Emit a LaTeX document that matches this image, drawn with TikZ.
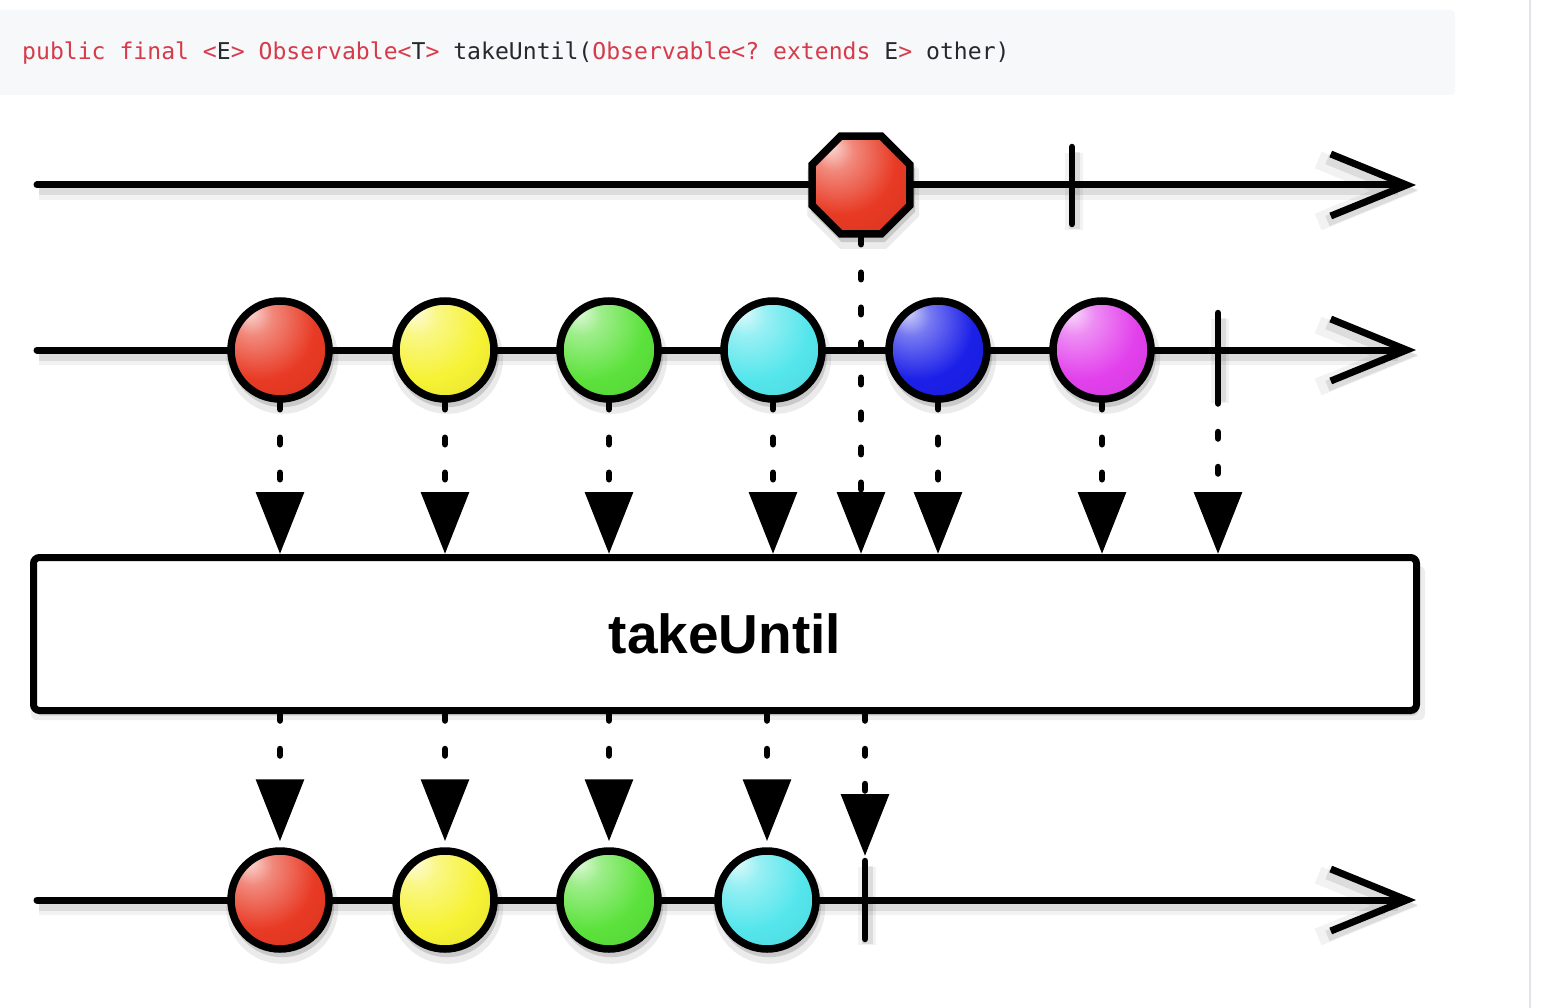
\documentclass[tikz,border=0pt]{standalone}
\usepackage{fontspec}
\newfontfamily\codefont{DejaVu Sans Mono}
\newfontfamily\labfont{Liberation Sans}
\usetikzlibrary{arrows.meta,shapes.geometric,shadows}
\definecolor{cred}{HTML}{D73A49}
\definecolor{cblk}{HTML}{24292E}
\definecolor{codebg}{HTML}{F6F8FA}
\definecolor{sepline}{HTML}{E1E4E8}
\definecolor{mred}{RGB}{232,58,36}
\definecolor{myel}{RGB}{246,242,52}
\definecolor{mgrn}{RGB}{92,226,60}
\definecolor{mcya}{RGB}{84,230,236}
\definecolor{mblu}{RGB}{28,32,232}
\definecolor{mmag}{RGB}{226,64,236}
\newcommand\mkmarble[2]{\pgfdeclareradialshading{#1}{\pgfpoint{-16bp}{20bp}}{color(0bp)=(#2!18!white); color(10bp)=(#2!60!white); color(28bp)=(#2); color(52bp)=(#2!90!black); color(78bp)=(#2!60!black)}}
\mkmarble{shred}{mred}
\mkmarble{shyel}{myel}
\mkmarble{shgrn}{mgrn}
\mkmarble{shcya}{mcya}
\mkmarble{shblu}{mblu}
\mkmarble{shmag}{mmag}
\tikzset{
  lshadow/.style={
    preaction={draw=black,opacity=.05,line width=18pt,transform canvas={shift={(2pt,-6pt)}}},
    preaction={draw=black,opacity=.09,line width=11pt,transform canvas={shift={(2pt,-5pt)}}}},
  tline/.style={lshadow,line width=7pt,line cap=round,-{Straight Barb[length=76pt,width=62pt]}},
  tickline/.style={lshadow,line width=6.5pt,line cap=round},
  darrow/.style={line width=6.5pt,line cap=round,dash pattern=on 6.5pt off 28.5pt,-{Triangle[length=62pt,width=47pt]}},
  nshadow/.style={general shadow={fill=black,opacity=.08,shadow scale=1.14,shadow xshift=2pt,shadow yshift=-7pt},
                  general shadow={fill=black,opacity=.14,shadow scale=1.06,shadow xshift=2pt,shadow yshift=-5pt}},
  marble/.style={circle,draw,line width=7.5pt,minimum size=98pt,inner sep=0pt,nshadow,shading=#1},
  stopsign/.style={regular polygon,regular polygon sides=8,draw,line width=7.5pt,minimum size=106pt,inner sep=0pt,nshadow,shading=#1},
  opbox/.style={draw,fill=white,line width=7pt,rounded corners=6pt,minimum width=1383pt,minimum height=153pt,inner sep=0pt,
    general shadow={fill=black,opacity=.07,shadow xshift=3pt,shadow yshift=-9pt,shadow scale=1.008},
    general shadow={fill=black,opacity=.12,shadow xshift=2pt,shadow yshift=-5pt},
    font=\labfont\bfseries\fontsize{55}{60}\selectfont},
}
\begin{document}
\begin{tikzpicture}[x=1pt,y=-1pt]
\useasboundingbox (0,0) rectangle (1554,1008);
\fill[white] (0,0) rectangle (1554,1008);
% code header
\fill[codebg,rounded corners=4pt] (-8,10) rectangle (1455,95);
\node[anchor=base west,inner sep=0pt,text=cblk,font=\codefont\fontsize{23.1}{27}\selectfont] (sig) at (22,60)
 {\frenchspacing\textcolor{cred}{public final <}E\textcolor{cred}{> Observable<}T\textcolor{cred}{>} takeUntil(\textcolor{cred}{Observable<? extends} E\textcolor{cred}{>} other)};
\draw[sepline,line width=2pt] (1530,0) -- (1530,1008);

% coordinates
\coordinate (a1s) at (37,185); \coordinate (a1e) at (1416,185);
\coordinate (a2s) at (37,350); \coordinate (a2e) at (1416,350);
\coordinate (a3s) at (37,900); \coordinate (a3e) at (1416,900);
\coordinate (k1t) at (1072,147); \coordinate (k1b) at (1072,224);
\coordinate (k2t) at (1218,313); \coordinate (k2b) at (1218,397);
\coordinate (k3t) at (865,861);  \coordinate (k3b) at (865,939);

% timelines
\draw[tline] (a1s) -- (a1e);
\draw[tline] (a2s) -- (a2e);
\draw[tline] (a3s) -- (a3e);
\draw[tickline] (k1t) -- (k1b);
\draw[tickline] (k2t) -- (k2b);

% operator box
\node[opbox] (box) at (725,634) {takeUntil};

% nodes
\node[stopsign=shred] (oct) at (861,185) {};
\node[marble=shred] (m1) at (280,350) {};
\node[marble=shyel] (m2) at (445,350) {};
\node[marble=shgrn] (m3) at (609,350) {};
\node[marble=shcya] (m4) at (773,350) {};
\node[marble=shblu] (m5) at (938,350) {};
\node[marble=shmag] (m6) at (1102,350) {};

% arrows into box
\foreach \m in {m1,m2,m3,m4,m5,m6}{
  \draw[darrow] (\m.south) -- (\m.south |- box.north);
}
\draw[darrow] (oct.south) -- (oct.south |- box.north);
\draw[darrow] (k2b) -- (k2b |- box.north);

% output marbles
\node[marble=shred] (n1) at (280,900) {};
\node[marble=shyel] (n2) at (445,900) {};
\node[marble=shgrn] (n3) at (609,900) {};
\node[marble=shcya] (n4) at (767,900) {};
\draw[tickline] (k3t) -- (k3b);

% arrows out of box
\foreach \n in {n1,n2,n3,n4}{
  \draw[darrow,shorten >=6pt] (box.south -| \n.north) -- (\n.north);
}
\draw[darrow,shorten >=5pt] (box.south -| k3t) -- (k3t);
\end{tikzpicture}
\end{document}
